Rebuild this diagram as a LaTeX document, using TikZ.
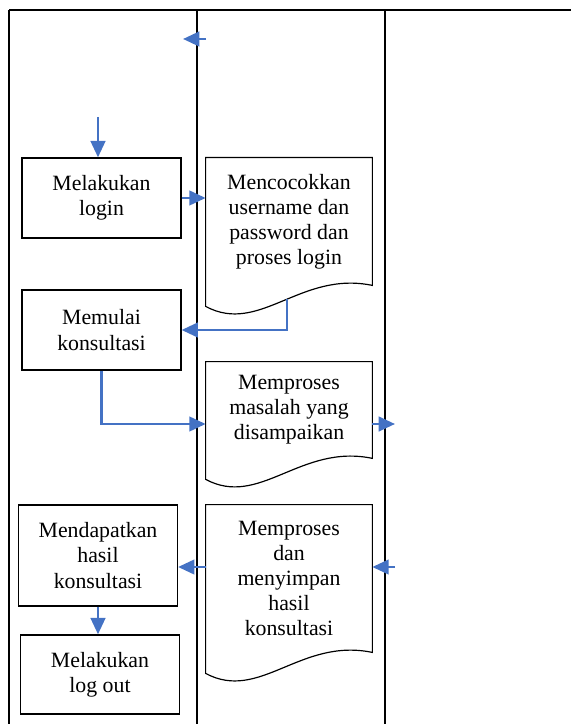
\documentclass[tikz,border=0pt]{standalone}
\usepackage{fontspec}
\setmainfont{Liberation Serif}
\usepackage{tikz}
\usetikzlibrary{calc, arrows.meta, positioning}
\definecolor{flow}{HTML}{4472C4}
% document symbol with a wavy bottom edge
\newcommand{\docshape}[1]{%
  \draw[line width=0.65pt] ([shift={(0,21)}]#1.south west) -- (#1.north west) -- (#1.north east) -- (#1.south east)
    .. controls +(-72,-15) and ([shift={(54,50)}]#1.south west) .. coordinate[pos=0.47] (#1-wave) ([shift={(0,21)}]#1.south west) -- cycle;}

\begin{document}
\begin{tikzpicture}[x=0.55pt, y=-0.55pt, font=\fontsize{12pt}{13.8pt}\selectfont,
    act/.style={draw, line width=0.7pt, align=center, minimum width=87.4pt, inner sep=0pt},
    doc/.style={align=center, minimum width=91.3pt, inner sep=0pt},
    lane/.style={line width=1.2pt},
    flowarrow/.style={flow, line width=1.5pt, -{Triangle[length=9pt, width=8pt]}}]
  \useasboundingbox (0,0) rectangle (571,724);
  % swimlanes
  \draw[lane] (9,10) -- (571,10);
  \foreach \x in {9,197,385}
    \draw[lane] (\x,10) -- (\x,724);
  % left lane
  \node[act, minimum height=44pt] (login) at (101.5,198) {Melakukan\\login};
  \node[act, minimum height=44pt] (mulai) at (101.5,330) {Memulai\\konsultasi};
  \node[act, minimum height=55.5pt] (hasil) at (98,555.5) {Mendapatkan\\hasil\\konsultasi};
  \node[act, minimum height=43.5pt] (logout) at (100,674.5) {Melakukan\\log out};
  % middle lane
  \node[doc, minimum height=69.9pt] (cocok) at (289,221.5) {Mencocokkan\\username dan\\password dan\\proses login};
  \node[doc, minimum height=52.8pt] (masalah) at (289,410) {Memproses\\masalah yang\\disampaikan};
  \node[doc, minimum height=80.9pt] (simpan) at (289,578.5) {Memproses\\dan\\menyimpan\\hasil\\konsultasi};
  \foreach \d in {cocok,masalah,simpan}
    \docshape{\d}
  % free ends
  \coordinate (back-in) at (206,39);
  \coordinate (back-out) at (183,39);
  \coordinate (start) at (98,117);
  \coordinate (masalah-out) at (395,424);
  \coordinate (simpan-in) at (395,567);
  % connectors
  \draw[flowarrow] (back-in) -- (back-out);
  \draw[flowarrow] (start) -- (start |- login.north);
  \draw[flowarrow] (login.east) -- (login.east -| cocok.west);
  \draw[flowarrow] (cocok-wave) |- (mulai.east);
  \draw[flowarrow] (mulai.south) |- (masalah.west |- masalah-out);
  \draw[flowarrow] (masalah.east |- masalah-out) -- (masalah-out);
  \draw[flowarrow] (simpan-in) -- (simpan.east |- simpan-in);
  \draw[flowarrow] (simpan.west |- simpan-in) -- (hasil.east |- simpan-in);
  \draw[flowarrow] (hasil.south) -- (hasil.south |- logout.north);
\end{tikzpicture}
\end{document}
